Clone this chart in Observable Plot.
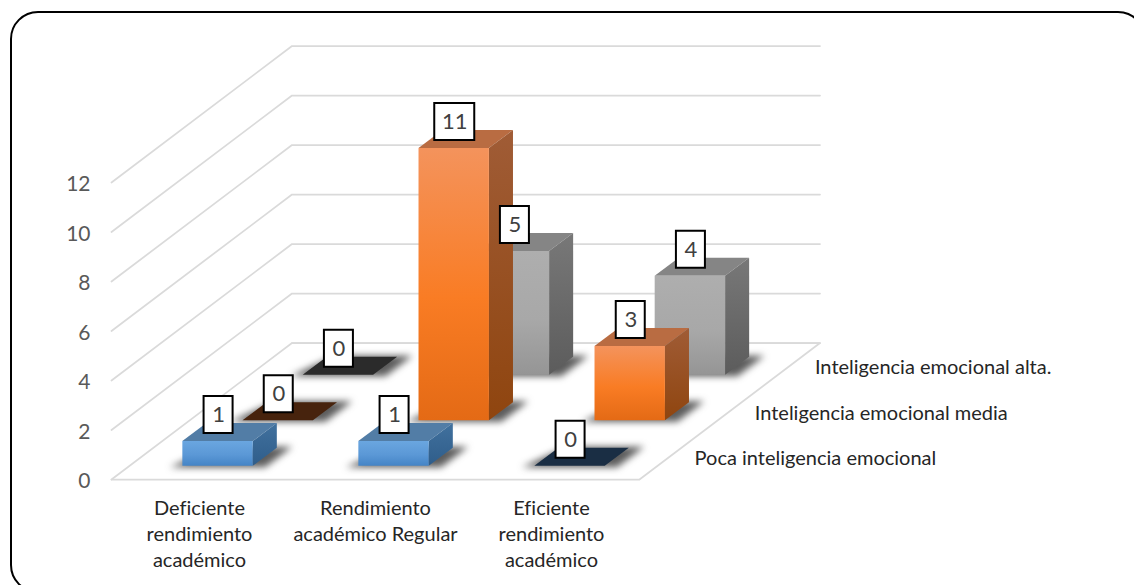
<!DOCTYPE html>
<html>
<head>
<meta charset="utf-8">
<script src="https://cdn.jsdelivr.net/npm/d3@7"></script>
<script src="https://cdn.jsdelivr.net/npm/@observablehq/plot@0.6"></script>
<style>
html,body{margin:0;padding:0;background:#fff;overflow:hidden;width:1134px;height:585px}
#frame{position:absolute;left:10px;top:11px;width:1136px;height:582px;border:2px solid #000;border-radius:28px;box-sizing:border-box}
#chart{position:absolute;left:0;top:0}
</style>
</head>
<body>
<div id="frame"></div>
<div id="chart"></div>
<script>
const categories = ["Deficiente\nrendimiento\nacadémico", "Rendimiento\nacadémico Regular", "Eficiente\nrendimiento\nacadémico"];
const seriesNames = ["Poca inteligencia emocional", "Inteligencia emocional media", "Inteligencia emocional alta."];
const pocaValues = [1, 1, 0];
const mediaValues = [0, 11, 3];
const altaValues = [0, 5, 4];
const yTicks = [0, 2, 4, 6, 8, 10, 12];

const palettes = [
  {id: "b", top: "#527DA6", flat: "#1A2E44", front: ["#6AA6E0", "#5B98D6", "#4484C6"], side: ["#41719E", "#2F5D8A"]},
  {id: "o", top: "#B96C42", flat: "#47230D", front: ["#F4935C", "#F97C24", "#E46A15"], side: ["#A05C36", "#8F450F"]},
  {id: "g", top: "#858585", flat: "#2B2B2B", front: ["#AEAEAE", "#A8A8A8", "#959595"], side: ["#787878", "#5C5C5C"]}
];

// Oblique projection: category axis + depth axis + value axis -> plot coordinates
const W = 1134, H = 585, mL = 111, mR = 495, mT = 182, mB = 106;
const depthX = (180.5 / 3) / ((W - mL - mR) / 3);
const depthY = (136.5 / 3) / ((H - mT - mB) / 12);
const pxX = 3 / (W - mL - mR), pxY = 12 / (H - mT - mB);
const P = (c, r, v) => ({x: c + r * depthX, y: v + r * depthY});
const poly = (...pts) => pts.map(p => P(...p));
const lo = 0.3, hi = 0.7;

const seriesValues = [pocaValues, mediaValues, altaValues];
const bars = [];
for (let r = 2; r >= 0; r--) categories.forEach((_, c) => bars.push({c, r, v: seriesValues[r][c], pal: palettes[r]}));

const gradients = () => {
  const defs = d3.create("svg:defs");
  const grad = (id, stops) => {
    const g = defs.append("linearGradient").attr("id", id).attr("x1", 0).attr("y1", 0).attr("x2", 0).attr("y2", 1);
    stops.forEach((s, i) => g.append("stop").attr("offset", stops.length === 3 ? [0, 0.55, 1][i] : i).attr("stop-color", s));
  };
  palettes.forEach(p => { grad(p.id + "f", p.front); grad(p.id + "s", p.side); });
  return defs.node();
};

const gridColor = "#DADADA";
const lineOpts = {x: "x", y: "y", stroke: gridColor, strokeWidth: 1.75};

const wallLines = yTicks.map(t => Plot.line(poly([0, 0, t], [0, 3, t], [3, 3, t]), lineOpts));
const floorLines = [Plot.line(poly([0, 0, 0], [3, 0, 0], [3, 3, 0], [0, 3, 0]), lineOpts)];

const shadowMarks = bars.map(({c, r}) => {
  const a = c + lo - 0.06, b = c + hi + 0.08, f = r + lo - 0.03, k = r + hi + 0.02;
  return Plot.line(poly([a, f, 0], [b, f, 0], [b, k, 0], [a + 0.1, k, 0]),
    {x: "x", y: "y", fill: "#333333", fillOpacity: 0.8, imageFilter: "blur(3.5px)"});
});

const barMarks = bars.flatMap(({c, r, v, pal}) => {
  const x0 = c + lo, x1 = c + hi, d0 = r + lo, d1 = r + hi;
  const top = Plot.line(poly([x0, d0, v], [x1, d0, v], [x1, d1, v], [x0, d1, v]),
    {x: "x", y: "y", fill: v === 0 ? pal.flat : pal.top});
  if (v === 0) return [top];
  return [
    top,
    Plot.line(poly([x1, d0, 0], [x1, d1, 0], [x1, d1, v], [x1, d0, v]), {x: "x", y: "y", fill: `url(#${pal.id}s)`}),
    Plot.line(poly([x0, d0, 0], [x1, d0, 0], [x1, d0, v], [x0, d0, v]), {x: "x", y: "y", fill: `url(#${pal.id}f)`})
  ];
});

// value labels: box anchored on the centre of each bar's top
const labelRows = bars.map(({c, r, v}) => {
  const p = P(c + 0.5, r + 0.5, v);
  const cx = p.x - 11 * pxX, cy = p.y + 17 * pxY;
  const w = String(v).length > 1 ? 40 : 29, h = 37;
  return {v, cx, cy, x1: cx - w / 2 * pxX, x2: cx + w / 2 * pxX, y1: cy - h / 2 * pxY, y2: cy + h / 2 * pxY};
});

const font = "Lato, 'Open Sans', sans-serif";
const plot = Plot.plot({
  width: W, height: H,
  marginLeft: mL, marginRight: mR, marginTop: mT, marginBottom: mB,
  x: {domain: [0, 3], axis: null},
  y: {domain: [0, 12], axis: null},
  style: {fontFamily: font, background: "transparent", overflow: "visible", fontVariantLigatures: "none"},
  marks: [
    gradients,
    ...wallLines,
    ...floorLines,
    ...shadowMarks,
    ...barMarks,
    Plot.rect(labelRows, {x1: "x1", x2: "x2", y1: "y1", y2: "y2", fill: "#fff", stroke: "#000", strokeWidth: 2, inset: 0}),
    Plot.text(labelRows, {x: "cx", y: "cy", text: d => String(d.v), fontSize: 22, fill: "#404040"}),
    Plot.axisY(yTicks, {anchor: "left", tickSize: 0, tickPadding: 21, fontSize: 21, dy: 2, fill: "#595959", label: null}),
    Plot.text(categories, {x: (_, i) => i + 0.5, y: () => 0, text: d => d, dy: 17, lineAnchor: "top", lineHeight: 1.3, fontSize: 20, fill: "#262626"}),
    Plot.text(seriesNames, {x: (_, i) => P(3, i + 0.5, 0).x, y: (_, i) => P(3, i + 0.5, 0).y, text: d => d, textAnchor: "start", dx: 25, dy: 2, fontSize: 20, fill: "#262626"})
  ]
});
document.getElementById("chart").appendChild(plot);
</script>
</body>
</html>
